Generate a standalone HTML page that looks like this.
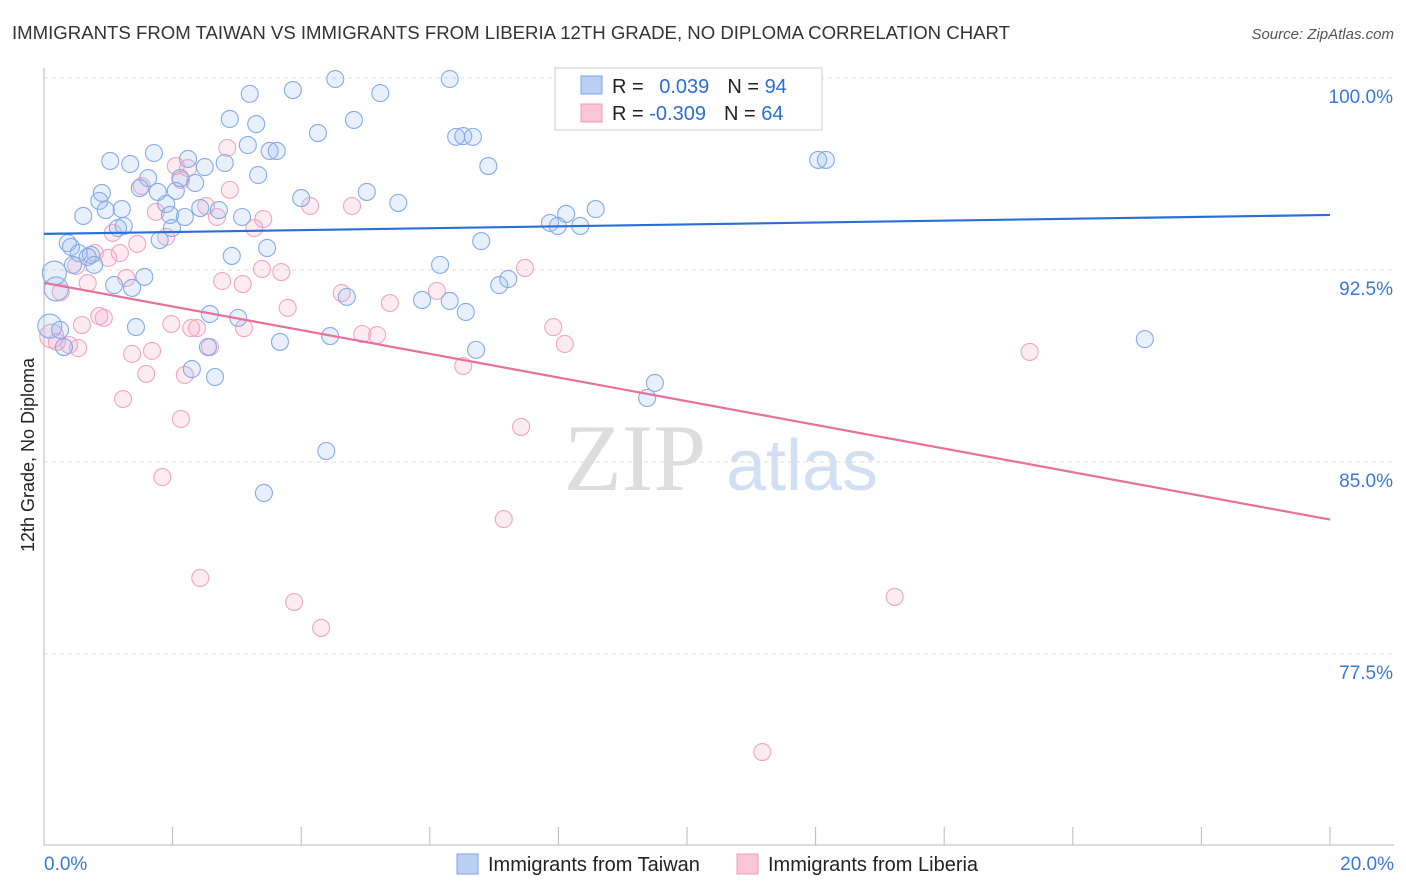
<!DOCTYPE html>
<html><head><meta charset="utf-8"><style>
body{margin:0;background:#fff;font-family:"Liberation Sans",sans-serif}
svg{display:block}
</style></head><body>
<svg id="chart" width="1406" height="892" xmlns="http://www.w3.org/2000/svg">
<text x="12" y="39" font-size="18.6" fill="#333">IMMIGRANTS FROM TAIWAN VS IMMIGRANTS FROM LIBERIA 12TH GRADE, NO DIPLOMA CORRELATION CHART</text>
<text x="1394" y="39" font-size="15" fill="#555" font-style="italic" text-anchor="end">Source: ZipAtlas.com</text>
<g id="grid"></g>
<g><text x="635" y="490" font-size="95" fill="#ddd" font-family="Liberation Serif" text-anchor="middle">ZIP</text><text x="802" y="490" font-size="72" fill="#d2e0f4" text-anchor="middle">atlas</text></g>
<g id="axes"></g>
<g id="pts"></g>
<g id="trends"></g>
<text transform="translate(34,455) rotate(-90)" font-size="18" fill="#222" text-anchor="middle">12th Grade, No Diploma</text>
<g>
<rect x="555" y="68" width="267" height="62" fill="#fff" stroke="#ccc"/>
<rect x="581" y="76" width="21" height="18" fill="#b9d0f3" stroke="#7aa6e6"/>
<rect x="581" y="104" width="21" height="18" fill="#f8c6d6" stroke="#ef9ab8"/>
<text x="612" y="93" font-size="20" fill="#222">R = <tspan fill="#2a6fd6" dx="10">0.039</tspan><tspan dx="18">N = </tspan><tspan fill="#2a6fd6">94</tspan></text>
<text x="612" y="120" font-size="20" fill="#222">R = <tspan fill="#2a6fd6">-0.309</tspan><tspan dx="18">N = </tspan><tspan fill="#2a6fd6">64</tspan></text>
</g>
<g>
<rect x="457" y="854" width="21" height="20" fill="#b9d0f3" stroke="#7aa6e6"/>
<text x="488" y="871" font-size="20" fill="#222">Immigrants from Taiwan</text>
<rect x="737" y="854" width="21" height="20" fill="#f8c6d6" stroke="#ef9ab8"/>
<text x="768" y="871" font-size="20" fill="#222">Immigrants from Liberia</text>
</g>
</svg>
<script>
const blueX=[4.53,6.31,11.76,3.87,5.23,3.20,2.89,3.30,4.82,4.26,6.41,6.52,6.67,3.17,3.51,3.62,1.71,1.03,2.24,2.50,2.81,6.91,12.04,12.16,1.34,3.33,1.62,2.12,2.35,0.90,1.49,1.77,2.05,5.02,4.00,0.86,5.51,1.21,0.96,1.90,2.43,1.96,2.19,3.08,2.72,0.61,8.58,8.12,7.87,7.99,8.34,1.24,1.15,1.99,1.80,0.37,0.42,3.47,0.54,0.73,0.68,2.92,0.78,0.45,6.16,0.16,7.08,7.22,1.56,1.09,1.37,0.19,4.71,5.88,6.31,6.56,2.58,3.02,1.43,0.09,0.25,4.45,3.67,0.31,2.55,6.72,17.12,2.30,2.66,9.50,9.38,4.39,3.42,6.80];
const blueY=[99.96,99.96,99.92,99.53,99.41,99.38,98.40,98.20,98.36,97.85,97.70,97.73,97.70,97.38,97.15,97.15,97.07,96.76,96.84,96.52,96.68,96.56,96.80,96.80,96.64,96.21,96.09,96.09,95.90,95.51,95.70,95.55,95.59,95.55,95.31,95.20,95.12,94.88,94.84,95.08,94.92,94.65,94.57,94.57,94.84,94.61,94.88,94.69,94.34,94.22,94.22,94.22,94.14,94.14,93.67,93.55,93.40,93.36,93.16,93.09,93.01,93.05,92.70,92.70,92.70,92.38,91.91,92.15,92.23,91.91,91.80,91.76,91.45,91.33,91.29,90.86,90.78,90.63,90.27,90.31,90.16,89.92,89.69,89.49,89.49,89.38,89.80,88.63,88.32,88.09,87.50,85.43,83.79,93.63];
const pinkX=[9.42,2.85,2.05,2.24,2.13,1.52,2.89,2.52,2.69,1.74,4.14,4.79,3.41,3.27,1.07,1.90,1.45,0.79,1.18,1.00,0.50,3.39,3.69,1.28,0.68,2.77,3.09,0.26,4.63,5.38,6.11,7.48,3.79,0.86,0.93,0.59,1.98,2.29,2.38,3.11,4.95,5.18,7.92,0.12,0.20,0.39,0.53,1.37,1.68,2.58,8.10,15.33,6.52,1.59,2.19,1.23,2.13,7.42,1.84,7.15,2.43,3.89,13.23,4.31,11.17];
const pinkY=[99.96,97.27,96.56,96.48,96.02,95.78,95.63,95.00,94.57,94.77,95.00,95.00,94.49,94.14,93.95,93.79,93.52,93.16,93.16,92.97,92.66,92.54,92.42,92.19,91.99,92.07,91.95,91.64,91.60,91.21,91.68,92.58,91.02,90.70,90.63,90.35,90.39,90.23,90.23,90.23,90.00,89.96,90.27,89.92,89.69,89.57,89.45,89.22,89.34,89.49,89.61,89.30,88.75,88.44,88.40,87.46,86.68,86.37,84.41,82.77,80.47,79.53,79.73,78.52,73.67];
const blueTrend=[93.91,94.65];
const pinkTrend=[92.0,82.75];
const yTicks=[100,92.5,85,77.5];
const yTickLabels=["100.0%","92.5%","85.0%","77.5%"];
const xTickLabels=["0.0%","20.0%"];
const NS="http://www.w3.org/2000/svg";
const xs=v=>44+v*64.3;
const ys=v=>78+(100-v)*25.6;
function mk(tag,attrs,parent){const e=document.createElementNS(NS,tag);for(const k in attrs)e.setAttribute(k,attrs[k]);parent.appendChild(e);return e;}
const grid=document.getElementById('grid'),axes=document.getElementById('axes'),pts=document.getElementById('pts'),tr=document.getElementById('trends');
yTicks.forEach((t,i)=>{
 const l=mk('line',{x1:44,x2:1394,y1:ys(t),y2:ys(t),stroke:'#ddd','stroke-dasharray':'4,4'},grid);
 
 
 const tx=mk('text',{x:1393,y:ys(t)+25,'font-size':19,fill:'#3a78d8','text-anchor':'end'},axes);
 tx.textContent=yTickLabels[i];
 
 
});
const ax=mk('line',{x1:44,x2:44,y1:68,y2:845,stroke:'#bbb'},axes);


const bx=mk('line',{x1:44,x2:1394,y1:845,y2:845,stroke:'#bbb'},axes);


for(let i=0;i<=10;i++){
 const t=mk('line',{x1:xs(i*2),x2:xs(i*2),y1:827,y2:845,stroke:'#bbb'},axes);
 
 
}
[[0,'start',44],[20,'end',1394]].forEach((a,i)=>{
 const tx=mk('text',{x:a[2],y:870,'font-size':19,fill:'#3a78d8','text-anchor':a[1]},axes);
 tx.textContent=xTickLabels[i];
 
 
});
function drawPts(X,Y,fill,stroke,name){
 X.forEach((x,i)=>{
  const r=(x<0.2)?12:8.5;
  const c=mk('circle',{cx:xs(x),cy:ys(Y[i]),r:r,fill:fill,stroke:stroke,'stroke-width':1.1},pts);
  
  
 });
}
drawPts(pinkX,pinkY,'rgba(245,165,195,0.22)','#f0a6c0','point-liberia');
drawPts(blueX,blueY,'rgba(150,185,240,0.22)','#86abe6','point-taiwan');
const bl=mk('line',{x1:xs(0),y1:ys(blueTrend[0]),x2:xs(20),y2:ys(blueTrend[1]),stroke:'#2a6fd6','stroke-width':2.2},tr);


const pl=mk('line',{x1:xs(0),y1:ys(pinkTrend[0]),x2:xs(20),y2:ys(pinkTrend[1]),stroke:'#e8709a','stroke-width':2.2},tr);


</script>
</body></html>
